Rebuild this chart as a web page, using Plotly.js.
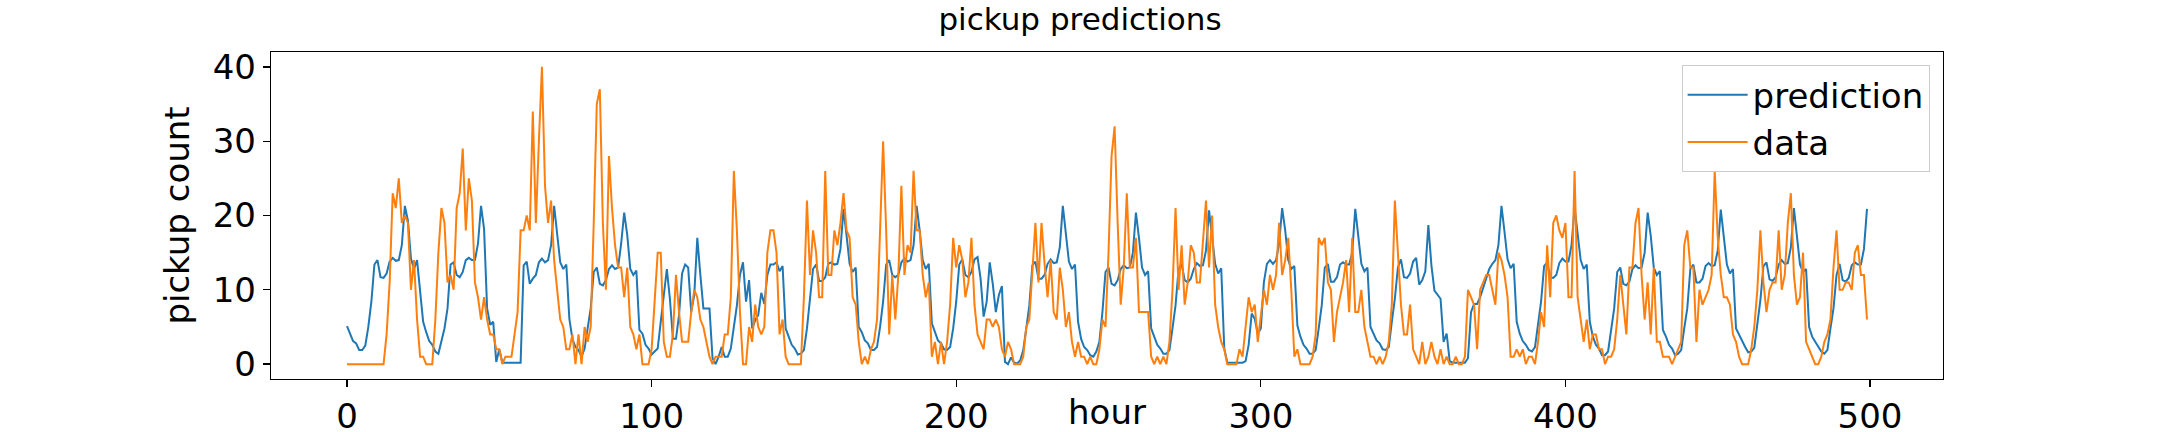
<!DOCTYPE html>
<html><head><meta charset="utf-8">
<script src="https://cdn.plot.ly/plotly-3.0.1.min.js"></script>
<style>html,body{margin:0;padding:0;background:#fff}</style>
</head><body><div id="chart" style="width:2160px;height:432px"></div>
<script>
const prediction = [
5.1,4,3.1,2.8,1.9,1.9,2.5,5,8.4,13.4,
14,11.7,11.6,12.2,13.8,14.3,13.9,14,16,21.3,
19.3,14.2,12.8,14,9.3,5.7,4.3,3.1,2.6,1.7,
1.4,3,4.8,7.5,13.4,13.7,12,11.7,12.4,14,
14.3,14,14,16.2,21.3,18.2,7.5,5.3,5.7,0.3,
2,0.2,0.2,0.2,0.2,0.2,0.2,0.2,13.3,13.8,
10.8,11.5,12,13.7,14.2,13.7,14,16,21.3,17.8,
13.7,12.8,13.4,6.1,3.4,2.3,1.9,1,2.1,4.8,
7.5,12.4,13,10.8,10.6,11.3,12.8,13.3,12.8,13,
16.2,20.4,17.4,12.8,12,12.6,4.6,4.1,2.6,2.1,
1.3,1.7,2.1,5.7,9.3,12.8,8.8,3.4,3.4,6.6,
12.2,13.4,13,7,9.3,17,12,7.5,7.5,7.5,
0.8,0,1,2.3,1,1,2.1,4.8,7.9,12,
13.7,8.4,11.3,4.8,5.9,6.6,9.6,8.1,12,13.4,
13.4,13.7,12.5,13.2,4.8,3.7,2.6,2.1,1.3,1.4,
1.9,4.8,8.4,12.8,13.4,11.2,11.2,11.7,13.5,13.7,
13.4,13.5,15.5,20.9,17.3,13.5,12.4,13,5,4.3,
3.2,2.8,1.9,1.9,2.3,5,8.4,13.4,14,12,
11.7,12,13.7,14.2,13.8,14,16,21.3,18,14,
12.8,13.5,5.5,4.3,3.2,2.8,2,1.9,2.3,4.8,
8.4,13.4,14.1,12,11.7,12.4,14.1,14.4,11.5,6.4,
8.4,13.7,10.8,7,9.3,10.5,0.3,0,0.9,0.2,
0.1,0.5,1.9,4.8,7.9,13.3,13.8,11.5,11.5,12,
13.5,14.1,13.6,13.7,15.7,21.3,17.8,13.8,12.8,13.4,
5.7,3.4,2.3,1.9,1.2,1,1.7,3,7,12.4,
13,10.8,10.6,11.3,12.8,13.3,12.9,13,15,20.4,
17,13,12,12.5,4.8,3.7,2.6,2.1,1.4,1.4,
1.9,4.8,7.9,12.8,13.5,11.3,11,11.5,12.8,13.6,
13.2,13.3,15.3,20.7,16.9,13.5,12.2,12.9,2.1,0.2,
0.2,0.2,0.2,0.2,0.2,0.4,2.6,6.8,6.1,4.1,
4.8,11,13.5,14,13.5,14,16.2,21,18,14,
12.8,13.2,5.2,3.7,2.6,2.1,1.4,1.4,1.9,4.8,
7.9,13,13.5,11.1,11.1,11.7,13.4,13.7,13.4,13.4,
15,20.9,17.3,13.5,12.5,13,5,4.1,3.2,2.8,
2,1.9,2.3,5.7,8.8,13,14.1,11.7,11.6,12.2,
13.8,14.3,10.7,11.3,12.5,18.7,13.3,9.9,9.3,8.8,
3,4.1,0.4,0.2,0.2,0.2,0.2,0.2,0.8,7,
8.1,8.1,9,10.2,11.7,12.8,13.5,14,16,21.3,
17.8,14.1,12.9,13.5,5.7,4.1,3.1,2.6,1.9,1.7,
2.3,5.7,8.4,13.2,13.7,11.7,11.6,12,13.6,14.2,
13.8,13.8,16,21.1,17.8,14,12.8,13.4,5.7,3.7,
2.6,2.1,1.2,1.2,1.7,4.8,7.5,12.4,13,10.8,
10.6,11.1,12.8,13.3,12.9,13,15,20.4,17.3,13,
12,12.5,4.6,3.7,2.6,2.1,1.2,1.4,1.9,4.8,
7.5,12.8,13.4,11,11,11.5,13.2,13.6,13.2,13.3,
15.3,20.8,17.3,13.4,12.2,12.8,4.8,3.9,3,2.3,
1.6,1.7,2.2,5.2,8.6,13.2,13.7,11.4,11.2,11.7,
13.4,14,13.5,13.6,15.7,21,17.5,13.4,12.4,12.8,
5,3.7,3,2.3,1.7,1.4,1.9,4.8,7.5,12,
13.5,11.3,11.1,11.6,13.3,13.7,13.4,13.4,15.5,20.9
];
const data = [
0,0,0,0,0,0,0,0,0,0,
0,0,0,4,11,23,21,25,19,20,
19,10,14,6,1,1,0,0,0,6,
15,21,19,11,12,10,21,23,29,18,
25,22,11,9,6,9,6,4,4,2,
2,0,1,1,1,4,7,18,18,20,
18,34,19,30,40,24,19,22,14,10,
6,5,2,2,4,0,4,0,5,3,
5,19,35,37,19,10,28,21,16,13,
13,9,13,5,4,2,4,0,0,0,
2,8,15,15,3,1,1,4,12,7,
3,3,3,7,10,9,6,5,3,1,
0,1,1,1,4,4,9,26,18,7,
0,0,5,3,8,5,4,5,15,18,
18,15,4,6,1,0,0,0,0,0,
9,22,12,18,15,9,9,26,12,12,
18,16,19,23,18,17,9,8,3,0,
1,0,2,3,6,18,30,18,4,12,
6,12,24,12,16,15,26,18,18,12,
9,11,1,3,0,3,0,3,8,17,
13,16,14,9,11,17,8,4,3,2,
6,6,5,6,5,2,1,3,2,0,
0,0,1,5,6,12,19,11,19,13.5,
9,14,7,6,13,10,5,7,3,1,
3,1,1,0,1,0,0,2,6,5,
15,28,32,19,8,13,23,13,13,17,
7,7,7,7,1,0,1,0,1,0,
3,10,21,10,16,8,11,16,15,11,
11,17,22,13,20,8,5,3,2,0,
0,0,0,2,1,5,9,7,8,3,
7,10,8,12,10,12,19,12,14,17,
10,1,2,0,0,0,0,1,4,17,
16,17,11,10,3,7,9,11,14,7,
17,7,7,10,5,3,1,1,0,1,
0,1,3,8,22,15,8,4,4,8,
2,1,0,3,0,1,3,1,0,2,
0,1,0,0,1,0,0,1,10,9,
8,2,10,11,12,12,10,8,15,14,
12,9,1,1,2,1,2,0,1,1,
0,3,7,5,16,9,19,20,18,17,
19,9,9,26,9,6,3,6,2,4,
4,2,2,0,1,1,2,6,12,8,
4,13,13,19,21,12,6,11,4,13,
3,3,1,1,1,0,1,2,3,16,
18,13,13,3,10,8,9,10,12,26,
17,12,9,9,8,4,3,1,0,0,
0,2,5,10,18,11,7,10,11,11,
18,10,12,19,23,12,8,9,15,3,
2,1,0,0,1,3,4,6,13,18,
10,10,11,11,10,15,16,12,12,6
];
const hours = prediction.map((_, i) => i);
const xTicks = [0, 100, 200, 300, 400, 500];
const yTicks = [0, 10, 20, 30, 40];
const F = "DejaVu Sans, sans-serif";
const traces = [
  {x: hours, y: prediction, name: "prediction", type: "scatter", mode: "lines", line: {color: "#1f77b4", width: 2}},
  {x: hours, y: data, name: "data", type: "scatter", mode: "lines", line: {color: "#ff7f0e", width: 2}}
];
const ax = {showgrid: false, zeroline: false, showline: true, mirror: true, linecolor: "#000", linewidth: 1.3,
  ticks: "outside", ticklen: 7, tickwidth: 1.3, tickcolor: "#000", tickfont: {family: F, size: 34, color: "#000"}};
const layout = {
  width: 2160, height: 432, paper_bgcolor: "#fff", plot_bgcolor: "#fff",
  margin: {l: 271, r: 217, t: 52, b: 53},
  title: {text: "pickup predictions", font: {family: F, size: 31, color: "#000"}, x: 0.5, xanchor: "center", y: 0.93, yanchor: "bottom"},
  xaxis: Object.assign({}, ax, {range: [-24.95, 523.95], tickvals: xTicks, title: {text: "hour", font: {family: F, size: 34, color: "#000"}, standoff: 2}}),
  yaxis: Object.assign({}, ax, {range: [-2, 42], tickvals: yTicks, title: {text: "pickup count", font: {family: F, size: 34, color: "#000"}, standoff: 12}}),
  showlegend: true,
  legend: {x: 0.992, y: 0.96, xanchor: "right", yanchor: "top", bgcolor: "rgba(255,255,255,0.8)", bordercolor: "#ccc", borderwidth: 1,
    font: {family: F, size: 34, color: "#000"}, itemwidth: 60, tracegroupgap: 0}
};
Plotly.newPlot("chart", traces, layout, {staticPlot: true, displayModeBar: false});
</script></body></html>
